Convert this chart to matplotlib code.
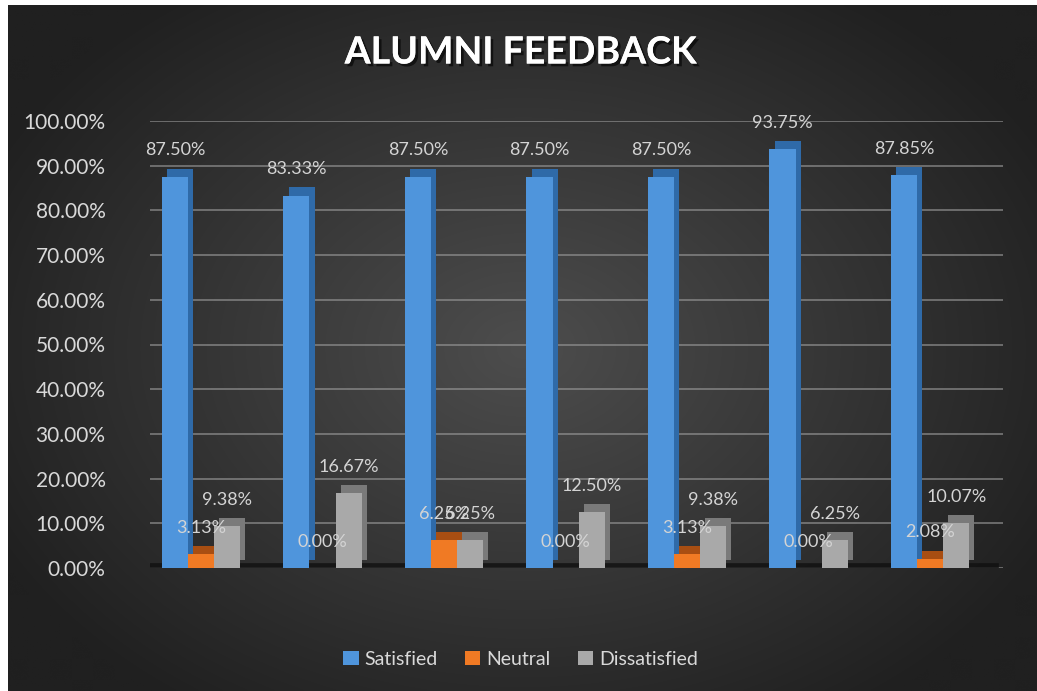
import numpy as np
import matplotlib
matplotlib.use("Agg")
import matplotlib.pyplot as plt
import matplotlib.patheffects as pe
from matplotlib.colors import to_rgb

# ---------------- data ----------------
groups = ["1", "2", "3", "4", "5", "6", "7"]
satisfied = [87.50, 83.33, 87.50, 87.50, 87.50, 93.75, 87.85]
neutral = [3.13, 0.00, 6.25, 0.00, 3.13, 0.00, 2.08]
dissatisfied = [9.38, 16.67, 6.25, 12.50, 9.38, 6.25, 10.07]
series_names = ["Satisfied", "Neutral", "Dissatisfied"]
yticks = [0, 10, 20, 30, 40, 50, 60, 70, 80, 90, 100]

colors = ["#4f95dc", "#f07a24", "#a9a9a9"]
side_colors = ["#2f6aa8", "#a84e12", "#7a7a7a"]

plt.rcParams['font.family'] = ['Lato', 'DejaVu Sans']

W, H = 1037, 691
fig = plt.figure(figsize=(W / 100, H / 100), dpi=100)
fig.patch.set_facecolor("white")

# background with radial gradient
bg = fig.add_axes([8 / W, 0, 1 - 8 / W, 1 - 5 / H])
bg.set_axis_off()
yy, xx = np.mgrid[0:300, 0:450]
cx, cy = 225, 150
r = np.sqrt(((xx - cx) / 260.0) ** 2 + ((yy - cy) / 190.0) ** 2)
r = np.clip(r, 0, 1)
inner = np.array(to_rgb("#4d4d4d"))
outer = np.array(to_rgb("#202020"))
img = inner[None, None, :] * (1 - r[..., None]) + outer[None, None, :] * r[..., None]
bg.imshow(img, aspect="auto", extent=[0, 1, 0, 1], interpolation="bilinear")
bg.set_xlim(0, 1)
bg.set_ylim(0, 1)

# main axes
ax = fig.add_axes([150 / W, 123 / H, (1003 - 150) / W, (568 - 121) / H])
ax.patch.set_alpha(0)
x = np.arange(len(groups))
bw = 0.215
offs = [-bw, 0.0, bw]
dx, dy = 0.085, 1.8

for v in yticks:
    ax.axhline(v, color="#9a9a9a", lw=1.2, alpha=0.7, zorder=0)

# floor shadow
ax.axhline(0, color="#101010", lw=7, alpha=0.8, zorder=1,
           xmin=0.0, xmax=0.99)

all_series = [satisfied, neutral, dissatisfied]
# depth (side/top) faces
for s, vals in enumerate(all_series):
    ax.bar(x + offs[s] + dx / 2, vals, width=bw, bottom=dy,
           color=side_colors[s], zorder=2, linewidth=0)
# front faces
for s, vals in enumerate(all_series):
    ax.bar(x + offs[s], vals, width=bw, color=colors[s], zorder=3,
           linewidth=0, label=series_names[s])
    for xi, v in zip(x + offs[s], vals):
        ax.annotate(f"{v:.2f}%", (xi, v), xytext=(0, 19),
                    textcoords="offset points", ha="center", va="center",
                    color="#d4d4d4", fontsize=13, zorder=5)

ax.set_xlim(-0.42, 6.6)
ax.set_ylim(0, 100)
ax.set_yticks(yticks)
ax.set_yticklabels([f"{v:.2f}%" for v in yticks])
ax.tick_params(axis="y", length=0, pad=32, labelcolor="#d9d9d9", labelsize=15)
ax.set_xticks([])
for sp in ax.spines.values():
    sp.set_visible(False)

fig.text(0.502, 0.924, "ALUMNI FEEDBACK", ha="center", va="center",
         color="white", fontsize=27, fontweight="bold",
         family=['Liberation Sans Narrow', 'Lato', 'DejaVu Sans'],
         path_effects=[pe.withSimplePatchShadow(offset=(2, -2), shadow_rgbFace="black", alpha=0.6),
                       pe.Normal()])

leg = fig.legend(loc="center", bbox_to_anchor=(0.502, 0.046), ncol=3,
                 frameon=False, fontsize=14, handlelength=0.8,
                 handleheight=0.8, handletextpad=0.3, columnspacing=1.4)
for t in leg.get_texts():
    t.set_color("#d9d9d9")

fig.savefig("out.png", dpi=100, facecolor=fig.get_facecolor())
